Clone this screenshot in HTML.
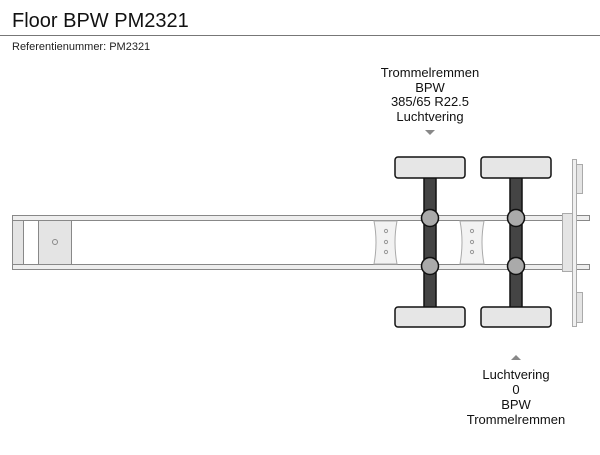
<!DOCTYPE html>
<html><head><style>
body{margin:0;width:600px;height:450px;background:#fff;overflow:hidden;font-family:"Liberation Sans",sans-serif}
</style></head><body>
<svg width="600" height="450" xmlns="http://www.w3.org/2000/svg" font-family="Liberation Sans, sans-serif">
<text x="12" y="27" font-size="20" fill="#111">Floor BPW PM2321</text>
<line x1="0" y1="35.5" x2="600" y2="35.5" stroke="#777" stroke-width="1"/>
<text x="12" y="50" font-size="11" fill="#222">Referentienummer: PM2321</text>

<g font-size="13" fill="#111" text-anchor="middle">
<text x="430" y="77">Trommelremmen</text>
<text x="430" y="92">BPW</text>
<text x="430" y="106">385/65 R22.5</text>
<text x="430" y="121">Luchtvering</text>
<text x="516" y="379">Luchtvering</text>
<text x="516" y="394">0</text>
<text x="516" y="409">BPW</text>
<text x="516" y="424">Trommelremmen</text>
</g>
<polygon points="425,130 435,130 430,135" fill="#888"/>
<polygon points="511,360 521,360 516,355" fill="#888"/>

<!-- frame -->
<g stroke="#888" stroke-width="1">
<rect x="12.5" y="215.5" width="577" height="5" fill="#eee"/>
<rect x="12.5" y="264.5" width="577" height="5" fill="#eee"/>
<rect x="12.5" y="220.5" width="11" height="44" fill="#e4e4e4"/>
<rect x="38.5" y="220.5" width="33" height="44" fill="#e4e4e4"/>
<circle cx="55" cy="242" r="2.5" fill="none"/>
<path d="M374,221 Q378,242 374,264 L397,264 Q393,242 397,221 Z" fill="#f2f2f2" stroke="#aaa"/>
<path d="M460,221 Q464,242 460,264 L484,264 Q480,242 484,221 Z" fill="#f2f2f2" stroke="#aaa"/>
<g fill="none" stroke="#999"><circle cx="386" cy="231" r="1.6"/><circle cx="386" cy="242" r="1.6"/><circle cx="386" cy="252" r="1.6"/>
<circle cx="472" cy="231" r="1.6"/><circle cx="472" cy="242" r="1.6"/><circle cx="472" cy="252" r="1.6"/></g>
<rect x="562.5" y="213.5" width="10" height="58" fill="#e4e4e4" stroke="#aaa"/>
<rect x="572.5" y="159.5" width="4" height="167" fill="#f0f0f0" stroke="#aaa"/>
<rect x="576.5" y="164.5" width="6" height="29" fill="#e4e4e4" stroke="#aaa"/>
<rect x="576.5" y="292.5" width="6" height="30" fill="#e4e4e4" stroke="#aaa"/>
</g>

<!-- axles -->
<g stroke="#111" stroke-width="1.5">
<rect x="424" y="176" width="12" height="133" fill="#444"/>
<rect x="510" y="176" width="12" height="133" fill="#444"/>
<rect x="395" y="157" width="70" height="21" rx="3" fill="#e6e6e6"/>
<rect x="481" y="157" width="70" height="21" rx="3" fill="#e6e6e6"/>
<rect x="395" y="307" width="70" height="20" rx="3" fill="#e6e6e6"/>
<rect x="481" y="307" width="70" height="20" rx="3" fill="#e6e6e6"/>
<circle cx="430" cy="218" r="8.5" fill="#aaa"/>
<circle cx="516" cy="218" r="8.5" fill="#aaa"/>
<circle cx="430" cy="266" r="8.5" fill="#aaa"/>
<circle cx="516" cy="266" r="8.5" fill="#aaa"/>
</g>
</svg>
</body></html>
